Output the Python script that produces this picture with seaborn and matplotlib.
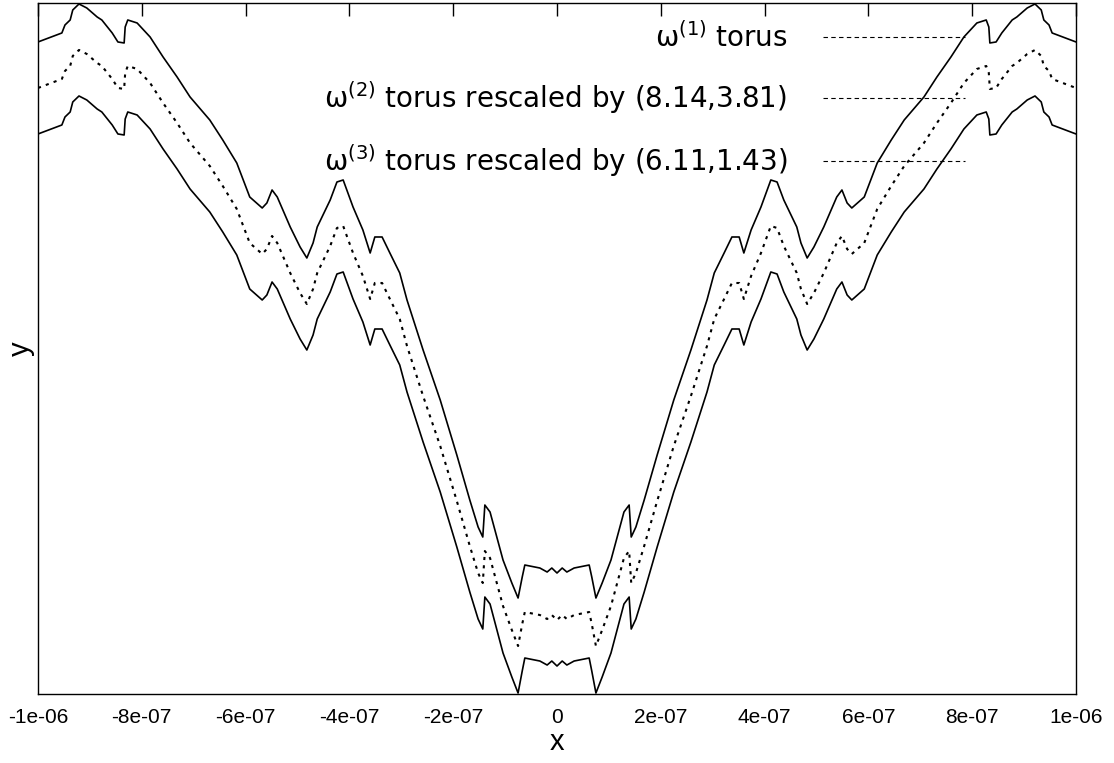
import numpy as np
import pandas as pd
import matplotlib
matplotlib.use("Agg")
import matplotlib.pyplot as plt
from matplotlib.lines import Line2D
import seaborn as sns

# x positions of the traced points, in units of 1e-7
x_e7 = [-10.0, -9.54, -9.48, -9.38, -9.33, -9.21, -9.06, -8.86, -8.77, -8.57,
        -8.46, -8.34, -8.32, -8.27, -8.09, -7.84, -7.59, -7.32, -7.07, -6.69,
        -6.44, -6.17, -5.92, -5.68, -5.59, -5.49, -5.39, -5.14, -4.95, -4.82,
        -4.70, -4.62, -4.37, -4.24, -4.12, -3.93, -3.74, -3.60, -3.51, -3.37,
        -3.22, -3.03, -2.89, -2.58, -2.25, -1.93, -1.68, -1.52, -1.43, -1.39,
        -1.29, -1.04, -0.87, -0.75, -0.67, -0.62, -0.33, -0.19, -0.10, 0.0,
        0.10, 0.19, 0.33, 0.62, 0.67, 0.75, 0.87, 1.04, 1.29, 1.39,
        1.43, 1.52, 1.68, 1.93, 2.25, 2.58, 2.89, 3.03, 3.22, 3.37,
        3.51, 3.60, 3.74, 3.93, 4.12, 4.24, 4.37, 4.62, 4.70, 4.82,
        4.95, 5.14, 5.39, 5.49, 5.59, 5.68, 5.92, 6.17, 6.44, 6.69,
        7.07, 7.32, 7.59, 7.84, 8.09, 8.27, 8.32, 8.34, 8.46, 8.57,
        8.77, 8.86, 9.06, 9.21, 9.33, 9.38, 9.48, 9.54, 10.0]

# y values (arbitrary units, the chart has no y scale)
y_torus1 = [652, 661, 669, 674, 684, 690, 686, 677, 674, 661,
            652, 651, 667, 674, 671, 657, 637, 617, 597, 574,
            554, 531, 497, 486, 491, 504, 497, 467, 447, 436,
            451, 467, 494, 512, 514, 487, 464, 441, 457, 457,
            441, 421, 394, 344, 294, 239, 194, 167, 157, 189,
            182, 134, 111, 96, 117, 129, 126, 122, 126, 121,
            126, 122, 126, 129, 117, 96, 111, 134, 182, 189,
            157, 167, 194, 239, 294, 344, 394, 421, 441, 457,
            457, 441, 464, 487, 514, 512, 494, 467, 451, 436,
            447, 467, 497, 504, 491, 486, 497, 531, 554, 574,
            597, 617, 637, 657, 671, 674, 667, 651, 652, 661,
            674, 677, 686, 690, 684, 674, 669, 661, 652]

y_torus2 = [606, 615, 623, 628, 638, 644, 640, 631, 628, 615,
            606, 605, 621, 628, 625, 611, 591, 571, 551, 528,
            508, 485, 451, 440, 445, 458, 451, 421, 401, 390,
            405, 421, 448, 466, 468, 441, 418, 395, 411, 411,
            395, 375, 348, 298, 248, 193, 148, 121, 111, 143,
            136, 88, 64, 48, 70, 82, 79, 75, 79, 74,
            79, 75, 79, 82, 70, 48, 64, 88, 136, 143,
            111, 121, 148, 193, 248, 298, 348, 375, 395, 411,
            411, 395, 418, 441, 468, 466, 448, 421, 405, 390,
            401, 421, 451, 458, 445, 440, 451, 485, 508, 528,
            551, 571, 591, 611, 625, 628, 621, 605, 606, 615,
            628, 631, 640, 644, 638, 628, 623, 615, 606]

y_torus3 = [560, 569, 577, 582, 592, 598, 594, 585, 582, 569,
            560, 559, 575, 582, 579, 565, 545, 525, 505, 482,
            462, 439, 405, 394, 399, 412, 405, 375, 355, 344,
            359, 375, 402, 420, 422, 395, 372, 349, 365, 365,
            349, 329, 302, 252, 202, 147, 102, 75, 65, 97,
            90, 41, 17, 1, 23, 36, 33, 29, 33, 28,
            33, 29, 33, 36, 23, 1, 17, 41, 90, 97,
            65, 75, 102, 147, 202, 252, 302, 329, 349, 365,
            365, 349, 372, 395, 422, 420, 402, 375, 359, 344,
            355, 375, 405, 412, 399, 394, 405, 439, 462, 482,
            505, 525, 545, 565, 579, 582, 575, 559, 560, 569,
            582, 585, 594, 598, 592, 582, 577, 569, 560]

labels = [r"ω$^{(1)}$ torus",
          r"ω$^{(2)}$ torus rescaled by (8.14,3.81)",
          r"ω$^{(3)}$ torus rescaled by (6.11,1.43)"]

tick_values = [-1e-6, -8e-7, -6e-7, -4e-7, -2e-7, 0, 2e-7, 4e-7, 6e-7, 8e-7, 1e-6]
tick_labels = ["-1e-06", "-8e-07", "-6e-07", "-4e-07", "-2e-07", "0",
               "2e-07", "4e-07", "6e-07", "8e-07", "1e-06"]


def main():
    sns.set_theme(style="white")
    plt.rcParams["font.family"] = ["Liberation Sans", "DejaVu Sans"]
    plt.rcParams["mathtext.fontset"] = "dejavusans"
    plt.rcParams["text.color"] = "black"
    plt.rcParams["axes.labelcolor"] = "black"

    x = np.array(x_e7) * 1e-7
    df = pd.DataFrame({"x": x, "t1": y_torus1, "t2": y_torus2, "t3": y_torus3})

    fig, ax = plt.subplots(figsize=(11.14, 7.63), dpi=100)
    fig.subplots_adjust(left=0.0341, right=0.9659, top=0.9961, bottom=0.0904)

    sns.lineplot(data=df, x="x", y="t1", color="black", lw=1.2, ax=ax)
    sns.lineplot(data=df, x="x", y="t2", color="black", lw=1.5,
                 linestyle=(0, (1.5, 2.5)), ax=ax)
    sns.lineplot(data=df, x="x", y="t3", color="black", lw=1.2, ax=ax)

    ax.set_xlim(-1e-6, 1e-6)
    ax.set_ylim(0, 691)
    ax.set_xticks(tick_values)
    ax.set_xticklabels(tick_labels, fontsize=15, color="black")
    ax.set_yticks([])
    ax.tick_params(axis="x", which="both", direction="in", top=True,
                   length=9, width=1, pad=10, colors="black")
    for sp in ax.spines.values():
        sp.set_color("black")
        sp.set_linewidth(1.0)

    ax.set_xlabel("x", fontsize=21, labelpad=1, color="black")
    ax.set_ylabel("y", fontsize=21, labelpad=2, color="black")

    handles = [Line2D([], [], color="black", lw=0.8, linestyle=(0, (4, 3)))
               for _ in labels]
    leg = ax.legend(handles, labels, loc="upper right", bbox_to_anchor=(0.893, 0.972),
                    frameon=False, markerfirst=False, borderpad=0, borderaxespad=0,
                    handlelength=5.1, handletextpad=1.3, labelspacing=0.95,
                    prop={"family": "DejaVu Sans", "size": 20})
    for t in leg.get_texts():
        t.set_color("black")

    fig.savefig("out.png", dpi=100)


if __name__ == "__main__":
    main()
